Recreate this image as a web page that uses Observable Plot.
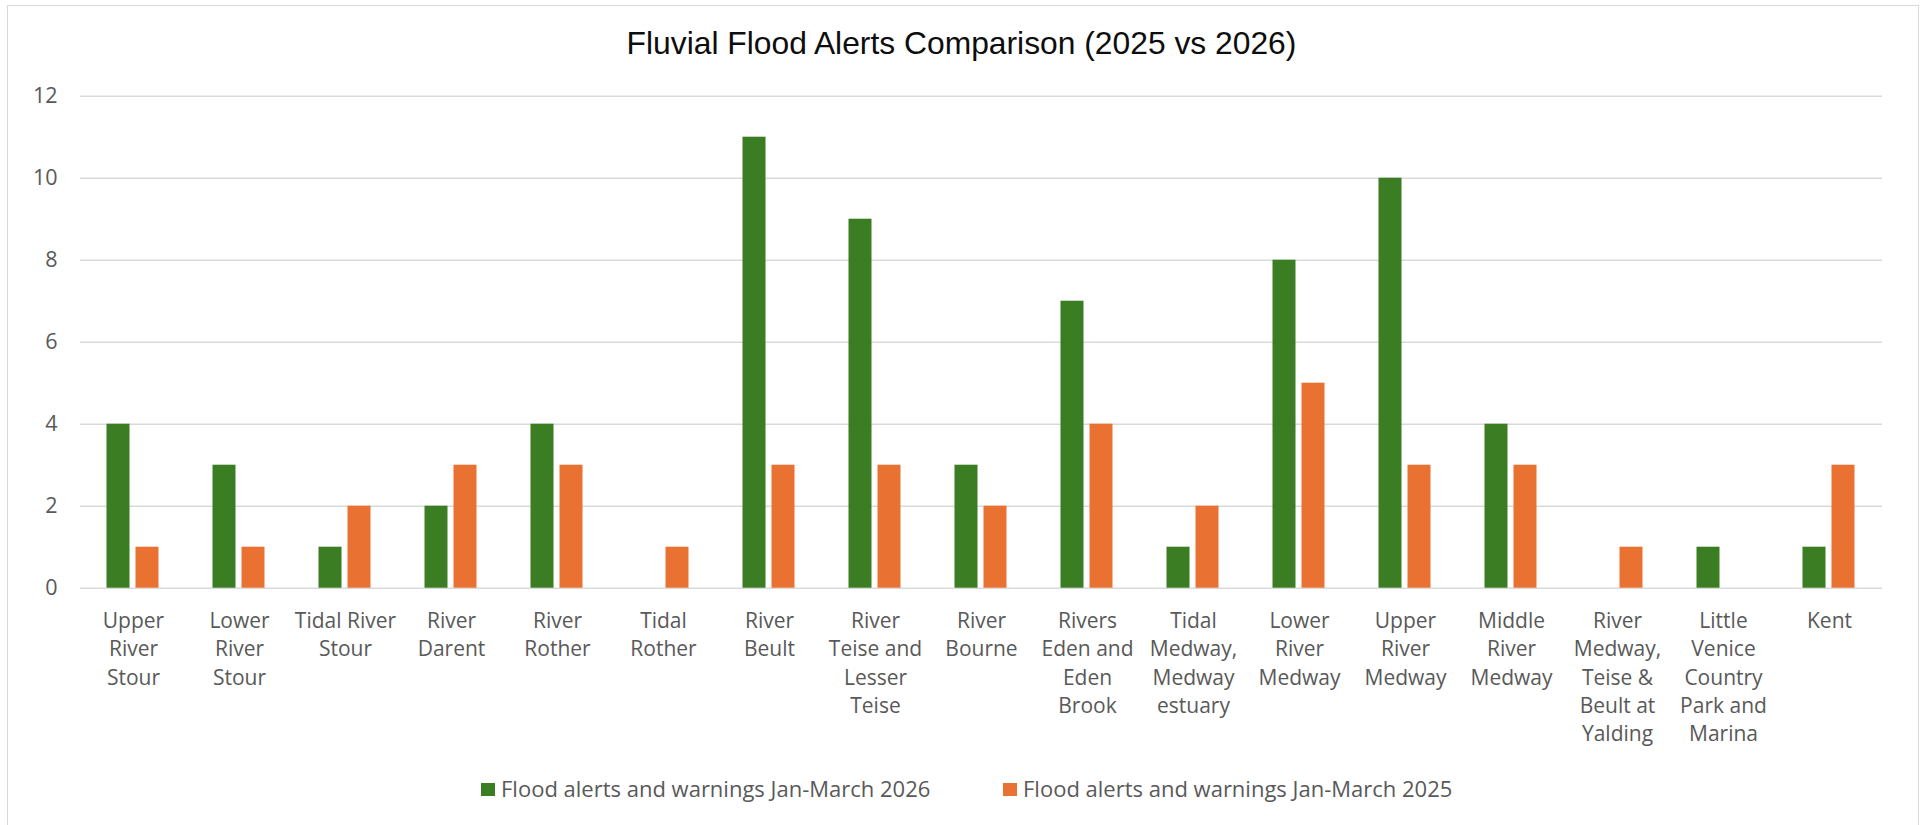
<!DOCTYPE html>
<html>
<head>
<meta charset="utf-8">
<script src="https://cdn.jsdelivr.net/npm/d3@7"></script>
<script src="https://cdn.jsdelivr.net/npm/@observablehq/plot@0.6"></script>
<style>
  html, body { margin: 0; padding: 0; background: #fff; }
  #page { position: relative; width: 1923px; height: 825px; overflow: hidden; }
  #frame { position: absolute; left: 6.5px; top: 5px; width: 1912px; height: 900px; box-sizing: border-box; border: 1.5px solid #d9d9d9; }
  #title { position: absolute; left: 0; top: 28.2px; width: 1923px; text-align: center; font-family: "Liberation Sans", Arial, sans-serif; font-size: 31.8px; line-height: 31.8px; color: #0d0d0d; }
  #chart { position: absolute; left: 0; top: 0; }
  .leg { position: absolute; top: 776.6px; font-family: "Open Sans", sans-serif; font-size: 22px; line-height: 22px; color: #595959; white-space: nowrap; }
  .sw { position: absolute; left: -20px; top: 6px; width: 14px; height: 13px; }
</style>
</head>
<body>
<div id="page">
  <div id="frame"></div>
  <div id="chart"></div>
  <div id="title">Fluvial Flood Alerts Comparison (2025 vs 2026)</div>
  <div id="legend"></div>
</div>
<script>
const categories = [
  "Upper River Stour", "Lower River Stour", "Tidal River Stour", "River Darent",
  "River Rother", "Tidal Rother", "River Beult", "River Teise and Lesser Teise",
  "River Bourne", "Rivers Eden and Eden Brook", "Tidal Medway, Medway estuary",
  "Lower River Medway", "Upper River Medway", "Middle River Medway",
  "River Medway, Teise & Beult at Yalding", "Little Venice Country Park and Marina", "Kent"
];
const categoryLabels = [
  "Upper\nRiver\nStour", "Lower\nRiver\nStour", "Tidal River\nStour", "River\nDarent",
  "River\nRother", "Tidal\nRother", "River\nBeult", "River\nTeise and\nLesser\nTeise",
  "River\nBourne", "Rivers\nEden and\nEden\nBrook", "Tidal\nMedway,\nMedway\nestuary",
  "Lower\nRiver\nMedway", "Upper\nRiver\nMedway", "Middle\nRiver\nMedway",
  "River\nMedway,\nTeise &\nBeult at\nYalding", "Little\nVenice\nCountry\nPark and\nMarina", "Kent"
];
const alerts2026 = [4, 3, 1, 2, 4, 0, 11, 9, 3, 7, 1, 8, 10, 4, 0, 1, 1];
const alerts2025 = [1, 1, 2, 3, 3, 1, 3, 3, 2, 4, 2, 5, 3, 3, 1, 0, 3];
const seriesKeys = ["2026", "2025"];
const seriesNames = ["Flood alerts and warnings Jan-March 2026", "Flood alerts and warnings Jan-March 2025"];
const seriesColors = ["#3A7D22", "#E97132"];
const yTicks = [0, 2, 4, 6, 8, 10, 12];

const labelMap = new Map(categories.map((c, i) => [c, categoryLabels[i]]));
const data = categories.flatMap((c, i) => [
  {cat: c, series: "2026", value: alerts2026[i]},
  {cat: c, series: "2025", value: alerts2025[i]}
]);

const chart = Plot.plot({
  width: 1923,
  height: 760,
  marginLeft: 73.5,
  marginRight: 34,
  marginTop: 95.7,
  marginBottom: 172.3,
  style: {fontFamily: "'Open Sans', sans-serif", color: "#595959", background: "transparent"},
  fx: {domain: categories, padding: 0, label: null},
  x: {domain: seriesKeys, paddingInner: 0.2, paddingOuter: 0.88, axis: null},
  y: {domain: [0, 12], axis: null},
  color: {domain: seriesKeys, range: seriesColors},
  marks: [
    Plot.gridY(yTicks, {stroke: "#d9d9d9", strokeOpacity: 1, strokeWidth: 1.5}),
    Plot.barY(data.filter(d => d.value > 0), {fx: "cat", x: "series", y: "value", fill: "series"}),
    Plot.axisY(yTicks, {tickSize: 0, tickPadding: 23, fontSize: 21.5, label: null, fill: "#595959"}),
    Plot.axisFx({anchor: "bottom", tickSize: 0, tickPadding: 19.5, fontSize: 21, lineHeight: 1.35, label: null, fill: "#595959", tickFormat: d => labelMap.get(d)})
  ]
});
document.getElementById("chart").appendChild(chart);

const legend = document.getElementById("legend");
const legendLefts = [501, 1023];
seriesNames.forEach((name, i) => {
  const item = document.createElement("div");
  item.className = "leg";
  item.style.left = legendLefts[i] + "px";
  item.innerHTML = `<span class="sw" style="background:${seriesColors[i]}"></span>${name}`;
  legend.appendChild(item);
});
</script>
</body>
</html>
